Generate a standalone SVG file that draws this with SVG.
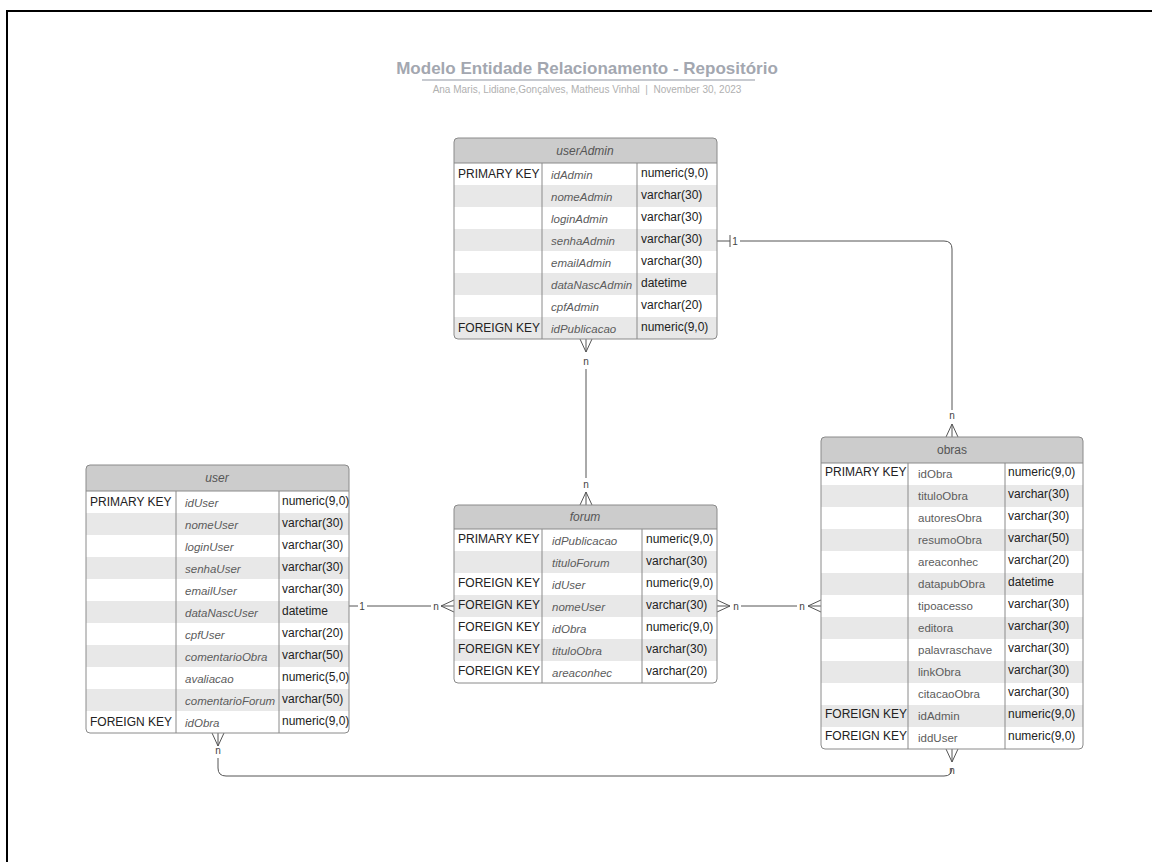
<svg xmlns="http://www.w3.org/2000/svg" width="1152" height="862" viewBox="0 0 1152 862">
<style>
text{font-family:"Liberation Sans",Arial,sans-serif}
.tb{fill:none;stroke:#8a8a8a;stroke-width:1}
.hd{fill:#cccccc}
.alt{fill:#e8e8e8}
.ln{stroke:#8a8a8a;stroke-width:1}
.k{font-size:12px;fill:#222222}
.f{font-size:11.5px;fill:#5c5c5c;font-style:italic}
.fn{font-size:11.5px;fill:#5c5c5c}
.t{font-size:12px;fill:#222222}
.h{font-size:12px;fill:#555555;font-style:italic;text-anchor:middle}
.hn{font-size:12px;fill:#555555;text-anchor:middle}
.c{fill:none;stroke:#555555;stroke-width:1}
.lb{font-size:10px;fill:#444444;text-anchor:middle}
</style>
<defs>
<clipPath id="cpA"><rect x="454" y="138" width="263" height="201" rx="4"/></clipPath>
<clipPath id="cpU"><rect x="86" y="465" width="263" height="268" rx="4"/></clipPath>
<clipPath id="cpF"><rect x="454" y="505" width="263" height="178" rx="4"/></clipPath>
<clipPath id="cpO"><rect x="821" y="437" width="262" height="312" rx="4"/></clipPath>
</defs>
<rect x="7" y="11" width="1200" height="900" fill="none" stroke="#000000" stroke-width="2"/>
<g id="title">
<text x="587" y="74" text-anchor="middle" font-size="17" font-weight="bold" fill="#a3a7b0">Modelo Entidade Relacionamento - Repositório</text>
<line x1="422" y1="80" x2="755" y2="80" stroke="#b4b8c0" stroke-width="1.5"/>
<text x="587" y="93" text-anchor="middle" font-size="10" fill="#b0b0b0">Ana Maris, Lidiane,Gonçalves, Matheus Vinhal &#160;|&#160; November 30, 2023</text>
</g>
<g id="connectors">
<path class="c" d="M717,241 H730 M730,235 V247 M740,241 H944 Q952,241 952,249 V410"/>
<text class="lb" x="735" y="245">1</text>
<text class="lb" x="952" y="419">n</text>
<path class="c" d="M946,437 L952,424 L958,437 M952,424 V437"/>
<path class="c" d="M580,339 L586,352 L592,339 M586,339 V352 M586,369 V478"/>
<text class="lb" x="586" y="365">n</text>
<text class="lb" x="586" y="488">n</text>
<path class="c" d="M580,505 L586,492 L592,505 M586,492 V505"/>
<path class="c" d="M349,606 H358 M367,606 H431 M454,600 L441,606 L454,612 M441,606 H454"/>
<text class="lb" x="362" y="610">1</text>
<text class="lb" x="436" y="610">n</text>
<path class="c" d="M717,600 L730,606 L717,612 M717,606 H730 M741,606 H797 M821,600 L808,606 L821,612 M808,606 H821"/>
<text class="lb" x="736" y="610">n</text>
<text class="lb" x="802" y="610">n</text>
<path class="c" d="M212,733 L218,746 L224,733 M218,733 V746 M218,758 V768 Q218,776 226,776 H944 Q952,776 952,768"/>
<text class="lb" x="218" y="754">n</text>
<text class="lb" x="952" y="774">n</text>
<path class="c" d="M946,749 L952,762 L958,749 M952,749 V762"/>
</g>
<g id="userAdmin">
<g clip-path="url(#cpA)">
<rect x="454" y="138" width="263" height="201" fill="#ffffff"/>
<rect class="hd" x="454" y="138" width="263" height="25"/>
<rect class="alt" x="454" y="185" width="263" height="22"/>
<rect class="alt" x="454" y="229" width="263" height="22"/>
<rect class="alt" x="454" y="273" width="263" height="22"/>
<rect class="alt" x="454" y="317" width="263" height="22"/>
</g>
<line class="ln" x1="454" y1="163" x2="717" y2="163"/>
<line class="ln" x1="542" y1="163" x2="542" y2="339"/>
<line class="ln" x1="637" y1="163" x2="637" y2="339"/>
<rect class="tb" x="454" y="138" width="263" height="201" rx="4"/>
<text class="h" x="585" y="155">userAdmin</text>
<text class="k" x="458" y="178">PRIMARY KEY</text><text class="f" x="551" y="179">idAdmin</text><text class="t" x="641" y="177">numeric(9,0)</text>
<text class="f" x="551" y="201">nomeAdmin</text><text class="t" x="641" y="199">varchar(30)</text>
<text class="f" x="551" y="223">loginAdmin</text><text class="t" x="641" y="221">varchar(30)</text>
<text class="f" x="551" y="245">senhaAdmin</text><text class="t" x="641" y="243">varchar(30)</text>
<text class="f" x="551" y="267">emailAdmin</text><text class="t" x="641" y="265">varchar(30)</text>
<text class="f" x="551" y="289">dataNascAdmin</text><text class="t" x="641" y="287">datetime</text>
<text class="f" x="551" y="311">cpfAdmin</text><text class="t" x="641" y="309">varchar(20)</text>
<text class="k" x="458" y="332">FOREIGN KEY</text><text class="f" x="551" y="333">idPublicacao</text><text class="t" x="641" y="331">numeric(9,0)</text>
</g>
<g id="user">
<g clip-path="url(#cpU)">
<rect x="86" y="465" width="263" height="268" fill="#ffffff"/>
<rect class="hd" x="86" y="465" width="263" height="26"/>
<rect class="alt" x="86" y="513" width="263" height="22"/>
<rect class="alt" x="86" y="557" width="263" height="22"/>
<rect class="alt" x="86" y="601" width="263" height="22"/>
<rect class="alt" x="86" y="645" width="263" height="22"/>
<rect class="alt" x="86" y="689" width="263" height="22"/>
</g>
<line class="ln" x1="86" y1="491" x2="349" y2="491"/>
<line class="ln" x1="176" y1="491" x2="176" y2="733"/>
<line class="ln" x1="279" y1="491" x2="279" y2="733"/>
<rect class="tb" x="86" y="465" width="263" height="268" rx="4"/>
<text class="h" x="217" y="482">user</text>
<text class="k" x="90" y="506">PRIMARY KEY</text><text class="f" x="185" y="507">idUser</text><text class="t" x="282" y="505">numeric(9,0)</text>
<text class="f" x="185" y="529">nomeUser</text><text class="t" x="282" y="527">varchar(30)</text>
<text class="f" x="185" y="551">loginUser</text><text class="t" x="282" y="549">varchar(30)</text>
<text class="f" x="185" y="573">senhaUser</text><text class="t" x="282" y="571">varchar(30)</text>
<text class="f" x="185" y="595">emailUser</text><text class="t" x="282" y="593">varchar(30)</text>
<text class="f" x="185" y="617">dataNascUser</text><text class="t" x="282" y="615">datetime</text>
<text class="f" x="185" y="639">cpfUser</text><text class="t" x="282" y="637">varchar(20)</text>
<text class="f" x="185" y="661">comentarioObra</text><text class="t" x="282" y="659">varchar(50)</text>
<text class="f" x="185" y="683">avaliacao</text><text class="t" x="282" y="681">numeric(5,0)</text>
<text class="f" x="185" y="705">comentarioForum</text><text class="t" x="282" y="703">varchar(50)</text>
<text class="k" x="90" y="726">FOREIGN KEY</text><text class="f" x="185" y="727">idObra</text><text class="t" x="282" y="725">numeric(9,0)</text>
</g>
<g id="forum">
<g clip-path="url(#cpF)">
<rect x="454" y="505" width="263" height="178" fill="#ffffff"/>
<rect class="hd" x="454" y="505" width="263" height="24"/>
<rect class="alt" x="454" y="551" width="263" height="22"/>
<rect class="alt" x="454" y="595" width="263" height="22"/>
<rect class="alt" x="454" y="639" width="263" height="22"/>
</g>
<line class="ln" x1="454" y1="529" x2="717" y2="529"/>
<line class="ln" x1="542" y1="529" x2="542" y2="683"/>
<line class="ln" x1="642" y1="529" x2="642" y2="683"/>
<rect class="tb" x="454" y="505" width="263" height="178" rx="4"/>
<text class="h" x="585" y="521">forum</text>
<text class="k" x="458" y="543">PRIMARY KEY</text><text class="f" x="552" y="545">idPublicacao</text><text class="t" x="646" y="543">numeric(9,0)</text>
<text class="f" x="552" y="567">tituloForum</text><text class="t" x="646" y="565">varchar(30)</text>
<text class="k" x="458" y="587">FOREIGN KEY</text><text class="f" x="552" y="589">idUser</text><text class="t" x="646" y="587">numeric(9,0)</text>
<text class="k" x="458" y="609">FOREIGN KEY</text><text class="f" x="552" y="611">nomeUser</text><text class="t" x="646" y="609">varchar(30)</text>
<text class="k" x="458" y="631">FOREIGN KEY</text><text class="f" x="552" y="633">idObra</text><text class="t" x="646" y="631">numeric(9,0)</text>
<text class="k" x="458" y="653">FOREIGN KEY</text><text class="f" x="552" y="655">tituloObra</text><text class="t" x="646" y="653">varchar(30)</text>
<text class="k" x="458" y="675">FOREIGN KEY</text><text class="f" x="552" y="677">areaconhec</text><text class="t" x="646" y="675">varchar(20)</text>
</g>
<g id="obras">
<g clip-path="url(#cpO)">
<rect x="821" y="437" width="262" height="312" fill="#ffffff"/>
<rect class="hd" x="821" y="437" width="262" height="26"/>
<rect class="alt" x="821" y="485" width="262" height="22"/>
<rect class="alt" x="821" y="529" width="262" height="22"/>
<rect class="alt" x="821" y="573" width="262" height="22"/>
<rect class="alt" x="821" y="617" width="262" height="22"/>
<rect class="alt" x="821" y="661" width="262" height="22"/>
<rect class="alt" x="821" y="705" width="262" height="22"/>
</g>
<line class="ln" x1="821" y1="463" x2="1083" y2="463"/>
<line class="ln" x1="908" y1="463" x2="908" y2="749"/>
<line class="ln" x1="1005" y1="463" x2="1005" y2="749"/>
<rect class="tb" x="821" y="437" width="262" height="312" rx="4"/>
<text class="hn" x="952" y="454">obras</text>
<text class="k" x="825" y="476">PRIMARY KEY</text><text class="fn" x="918" y="478">idObra</text><text class="t" x="1008" y="476">numeric(9,0)</text>
<text class="fn" x="918" y="500">tituloObra</text><text class="t" x="1008" y="498">varchar(30)</text>
<text class="fn" x="918" y="522">autoresObra</text><text class="t" x="1008" y="520">varchar(30)</text>
<text class="fn" x="918" y="544">resumoObra</text><text class="t" x="1008" y="542">varchar(50)</text>
<text class="fn" x="918" y="566">areaconhec</text><text class="t" x="1008" y="564">varchar(20)</text>
<text class="fn" x="918" y="588">datapubObra</text><text class="t" x="1008" y="586">datetime</text>
<text class="fn" x="918" y="610">tipoacesso</text><text class="t" x="1008" y="608">varchar(30)</text>
<text class="fn" x="918" y="632">editora</text><text class="t" x="1008" y="630">varchar(30)</text>
<text class="fn" x="918" y="654">palavraschave</text><text class="t" x="1008" y="652">varchar(30)</text>
<text class="fn" x="918" y="676">linkObra</text><text class="t" x="1008" y="674">varchar(30)</text>
<text class="fn" x="918" y="698">citacaoObra</text><text class="t" x="1008" y="696">varchar(30)</text>
<text class="k" x="825" y="718">FOREIGN KEY</text><text class="fn" x="918" y="720">idAdmin</text><text class="t" x="1008" y="718">numeric(9,0)</text>
<text class="k" x="825" y="740">FOREIGN KEY</text><text class="fn" x="918" y="742">iddUser</text><text class="t" x="1008" y="740">numeric(9,0)</text>
</g>
</svg>
